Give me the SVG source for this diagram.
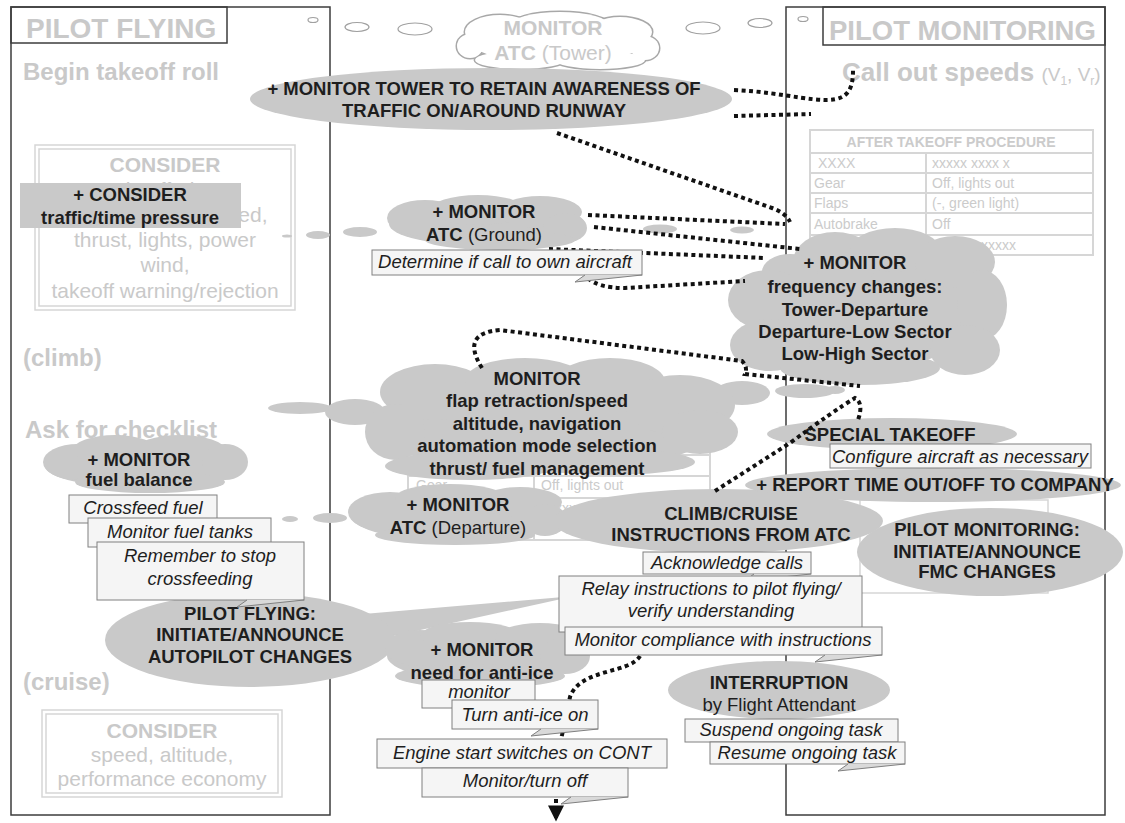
<svg xmlns="http://www.w3.org/2000/svg" width="1125" height="823" viewBox="0 0 1125 823">
<defs>
<style>
text{font-family:"Liberation Sans",Arial,Helvetica,sans-serif}
.frame{fill:none;stroke:#3c3c3c;stroke-width:1.5}
.fade{fill:#c9c9c9;font-weight:bold}
.fadeN{fill:#c9c9c9}
.dbl{fill:none;stroke:#d6d6d6;stroke-width:1.5}
.tbl{fill:none;stroke:#d6d6d6;stroke-width:2}
.tt{fill:#cbcbcb;font-size:14px}
.cl{fill:#c9c9c9}
.lbl{fill:#1e1e1e;font-size:18.5px;font-weight:bold;text-anchor:middle}
.reg{font-weight:normal}
.note{fill:#1e1e1e;font-size:18.5px;font-style:italic;text-anchor:middle}
.box{fill:#f5f5f5;stroke:#808080;stroke-width:1}
.tail{fill:#d9d9d9;stroke:#808080;stroke-width:1}
.dots{fill:none;stroke:#111;stroke-width:4;stroke-dasharray:4 3.5}
.bub{fill:#fff;stroke:#a0a0a0;stroke-width:1.2}
.ghostline{fill:none;stroke:#a8a8a8;stroke-width:3}
.ghostfill{fill:#fff}
</style>
<marker id="arrowhead" viewBox="0 0 10 10" refX="9" refY="5" markerWidth="4.2" markerHeight="4" orient="auto" markerUnits="strokeWidth">
<path d="M0,0 L10,5 L0,10 Z" fill="#111"/>
</marker>
</defs>
<rect width="1125" height="823" fill="#fff"/>

<!-- Pilot Flying column -->
<g id="pilot-flying-panel">
<rect class="frame" x="11" y="7" width="319" height="808"/>
<rect class="frame" x="11" y="7" width="216" height="36"/>
<text class="fade" x="26" y="38" font-size="28">PILOT FLYING</text>
<text class="fade" x="23" y="80" font-size="24">Begin takeoff roll</text>
<rect class="dbl" x="35" y="145" width="260" height="165"/>
<rect class="dbl" x="39" y="149" width="252" height="157"/>
<g class="fadeN" font-size="21" text-anchor="middle">
<text x="165" y="172" font-weight="bold">CONSIDER</text>
<text x="163" y="197">takeoff trim,</text>
<text x="170" y="222">configuration, speed,</text>
<text x="165" y="247">thrust, lights, power</text>
<text x="165" y="272">wind,</text>
<text x="165" y="298">takeoff warning/rejection</text>
</g>
<text class="fade" x="23" y="366" font-size="24">(climb)</text>
<text class="fade" x="25" y="438" font-size="24">Ask for checklist</text>
<text class="fade" x="23" y="690" font-size="24">(cruise)</text>
<rect class="dbl" x="42" y="710" width="240" height="87"/>
<rect class="dbl" x="46" y="714" width="232" height="79"/>
<g class="fadeN" font-size="21" text-anchor="middle">
<text x="162" y="738" font-weight="bold">CONSIDER</text>
<text x="162" y="762">speed, altitude,</text>
<text x="162" y="786">performance economy</text>
</g>
</g>

<!-- Pilot Monitoring column -->
<g id="pilot-monitoring-panel">
<rect class="frame" x="786" y="7" width="319" height="808"/>
<rect class="frame" x="823" y="7" width="282" height="38"/>
<text class="fade" x="829" y="40" font-size="27.5">PILOT MONITORING</text>
<text class="fade" x="842" y="81" font-size="26">Call out speeds <tspan class="fadeN" font-weight="normal" font-size="19">(V<tspan font-size="12" dy="4">1</tspan><tspan dy="-4">, V</tspan><tspan font-size="12" dy="4">r</tspan><tspan dy="-4">)</tspan></tspan></text>
<g id="after-takeoff-table">
<rect class="tbl" x="810" y="130" width="283" height="125"/>
<path class="tbl" d="M810,153 H1093 M810,173 H1093 M810,193 H1093 M810,213 H1093 M810,235 H1093 M926,153 V255"/>
<text class="tt" x="951" y="147" text-anchor="middle" font-weight="bold">AFTER TAKEOFF PROCEDURE</text>
<text class="tt" x="818" y="168" font-size="12">XXXX</text>
<text class="tt" x="932" y="168" font-size="13">xxxxx xxxx x</text>
<text class="tt" x="814" y="188">Gear</text>
<text class="tt" x="932" y="188">Off, lights out</text>
<text class="tt" x="814" y="208">Flaps</text>
<text class="tt" x="932" y="208">(-, green light)</text>
<text class="tt" x="814" y="229">Autobrake</text>
<text class="tt" x="932" y="229">Off</text>
<text class="tt" x="932" y="250">xxxxxxxxxxxx</text>
</g>
<rect class="dbl" x="860" y="500" width="188" height="93"/>
</g>

<!-- faded table in the centre lane -->
<g id="centre-table">
<rect class="tbl" x="408" y="392" width="302" height="148"/>
<path class="tbl" d="M408,413 H710 M408,434 H710 M408,455 H710 M408,476 H710 M408,498 H710 M408,519 H710 M534,413 V540"/>
<text class="tt" x="416" y="490" font-size="15">Gear</text>
<text class="tt" x="541" y="490" font-size="15">Off, lights out</text>
<text class="tt" x="541" y="513" font-size="15">xxxxxxxxxx</text>
</g>

<!-- faded tower monitoring cloud with its thought bubbles -->
<g id="monitor-atc-tower">
<ellipse class="bub" cx="313" cy="20" rx="5" ry="2.5"/>
<ellipse class="bub" cx="357" cy="27" rx="12" ry="4.5"/>
<ellipse class="bub" cx="415" cy="29" rx="17" ry="6"/>
<ellipse class="bub" cx="703" cy="28" rx="17" ry="6"/>
<ellipse class="bub" cx="760" cy="23" rx="12" ry="4.5"/>
<ellipse class="bub" cx="803" cy="19" rx="5" ry="2.5"/>
<g class="ghostline">
<ellipse cx="558" cy="42" rx="88" ry="20"/><ellipse cx="500" cy="32" rx="35" ry="17"/><ellipse cx="560" cy="26" rx="50" ry="14"/><ellipse cx="620" cy="32" rx="32" ry="15"/><ellipse cx="645" cy="48" rx="14" ry="12"/><ellipse cx="470" cy="46" rx="13" ry="12"/><ellipse cx="520" cy="60" rx="45" ry="9"/><ellipse cx="600" cy="60" rx="45" ry="9"/>
</g>
<g class="ghostfill">
<ellipse cx="558" cy="42" rx="88" ry="20"/><ellipse cx="500" cy="32" rx="35" ry="17"/><ellipse cx="560" cy="26" rx="50" ry="14"/><ellipse cx="620" cy="32" rx="32" ry="15"/><ellipse cx="645" cy="48" rx="14" ry="12"/><ellipse cx="470" cy="46" rx="13" ry="12"/><ellipse cx="520" cy="60" rx="45" ry="9"/><ellipse cx="600" cy="60" rx="45" ry="9"/>
</g>
<text class="fade" x="553" y="35" font-size="21" text-anchor="middle">MONITOR</text>
<text class="fade" x="553" y="60" font-size="21" text-anchor="middle">ATC <tspan font-weight="normal">(Tower)</tspan></text>
</g>

<g id="consider-traffic">
<rect class="cl" x="20" y="183" width="221" height="45"/>
<text class="lbl" x="130" y="201">+ CONSIDER</text>
<text class="lbl" x="130" y="224">traffic/time pressure</text>
</g>

<g id="monitor-tower-awareness">
<ellipse class="cl" cx="491" cy="99" rx="241" ry="31"/>
<text class="lbl" x="484" y="95">+ MONITOR TOWER TO RETAIN AWARENESS OF</text>
<text class="lbl" x="484" y="117">TRAFFIC ON/AROUND RUNWAY</text>
</g>

<g id="monitor-atc-ground">
<g class="cl">
<ellipse cx="360" cy="232" rx="17" ry="5"/><ellipse cx="318" cy="235" rx="12" ry="4"/><ellipse cx="287" cy="236" rx="5" ry="1.5"/>
<ellipse cx="660" cy="229" rx="17" ry="4.5"/><ellipse cx="742" cy="230" rx="12" ry="3.5"/>
<ellipse cx="487" cy="224" rx="98" ry="22"/><ellipse cx="425" cy="218" rx="38" ry="18"/><ellipse cx="478" cy="210" rx="48" ry="15"/><ellipse cx="540" cy="212" rx="42" ry="16"/><ellipse cx="565" cy="228" rx="22" ry="15"/><ellipse cx="500" cy="240" rx="75" ry="10"/>
</g>
<text class="lbl" x="484" y="218">+ MONITOR</text>
<text class="lbl" x="484" y="241">ATC <tspan class="reg">(Ground)</tspan></text>
</g>

<g id="monitor-frequency-changes">
<g class="cl">
<ellipse cx="866" cy="310" rx="118" ry="58"/><ellipse cx="835" cy="262" rx="42" ry="30"/><ellipse cx="895" cy="250" rx="45" ry="22"/><ellipse cx="955" cy="262" rx="40" ry="26"/><ellipse cx="790" cy="272" rx="28" ry="18"/><ellipse cx="768" cy="300" rx="40" ry="30"/><ellipse cx="770" cy="345" rx="40" ry="26"/><ellipse cx="982" cy="305" rx="25" ry="35"/><ellipse cx="965" cy="350" rx="35" ry="25"/><ellipse cx="860" cy="368" rx="80" ry="17"/>
</g>
<text class="lbl" x="855" y="269">+ MONITOR</text>
<text class="lbl" x="855" y="293">frequency changes:</text>
<text class="lbl" x="855" y="316">Tower-Departure</text>
<text class="lbl" x="855" y="338">Departure-Low Sector</text>
<text class="lbl" x="855" y="360">Low-High Sector</text>
</g>

<g id="monitor-flaps-altitude">
<g class="cl">
<ellipse cx="300" cy="408" rx="32" ry="6"/><ellipse cx="355" cy="412" rx="30" ry="13"/>
<ellipse cx="742" cy="393" rx="28" ry="12"/><ellipse cx="805" cy="391" rx="30" ry="7"/><ellipse cx="835" cy="390" rx="10" ry="4"/>
<ellipse cx="545" cy="425" rx="172" ry="48"/><ellipse cx="435" cy="392" rx="55" ry="28"/><ellipse cx="525" cy="380" rx="60" ry="22"/><ellipse cx="610" cy="382" rx="55" ry="24"/><ellipse cx="680" cy="405" rx="55" ry="30"/><ellipse cx="395" cy="432" rx="30" ry="28"/><ellipse cx="700" cy="432" rx="38" ry="22"/><ellipse cx="470" cy="466" rx="85" ry="14"/><ellipse cx="610" cy="462" rx="85" ry="13"/>
</g>
<text class="lbl" x="537" y="385">MONITOR</text>
<text class="lbl" x="537" y="407">flap retraction/speed</text>
<text class="lbl" x="537" y="430">altitude, navigation</text>
<text class="lbl" x="537" y="452">automation mode selection</text>
<text class="lbl" x="537" y="475">thrust/ fuel management</text>
</g>

<g id="monitor-fuel-balance">
<g class="cl">
<ellipse cx="145" cy="466" rx="100" ry="22"/><ellipse cx="78" cy="462" rx="35" ry="18"/><ellipse cx="115" cy="450" rx="42" ry="15"/><ellipse cx="180" cy="450" rx="45" ry="15"/><ellipse cx="225" cy="462" rx="23" ry="18"/><ellipse cx="150" cy="482" rx="75" ry="11"/>
</g>
<text class="lbl" x="139" y="466">+ MONITOR</text>
<text class="lbl" x="139" y="486">fuel balance</text>
</g>

<g id="monitor-atc-departure">
<g class="cl">
<ellipse cx="290" cy="519" rx="8" ry="3"/><ellipse cx="330" cy="518" rx="17" ry="5"/>
<ellipse cx="456" cy="516" rx="105" ry="25"/><ellipse cx="390" cy="512" rx="42" ry="20"/><ellipse cx="450" cy="498" rx="55" ry="14"/><ellipse cx="520" cy="502" rx="42" ry="15"/><ellipse cx="545" cy="520" rx="22" ry="16"/><ellipse cx="455" cy="535" rx="80" ry="10"/>
</g>
<text class="lbl" x="458" y="511">+ MONITOR</text>
<text class="lbl" x="458" y="534">ATC <tspan class="reg">(Departure)</tspan></text>
</g>

<g id="pf-autopilot-changes">
<polygon class="cl" points="340,616 575,596 375,640"/>
<ellipse class="cl" cx="250" cy="640" rx="145" ry="47"/>
<text class="lbl" x="250" y="620">PILOT FLYING:</text>
<text class="lbl" x="250" y="641">INITIATE/ANNOUNCE</text>
<text class="lbl" x="250" y="663">AUTOPILOT CHANGES</text>
</g>

<g id="monitor-anti-ice">
<g class="cl">
<ellipse cx="487" cy="656" rx="100" ry="26"/><ellipse cx="420" cy="648" rx="35" ry="18"/><ellipse cx="470" cy="636" rx="50" ry="14"/><ellipse cx="540" cy="638" rx="45" ry="15"/><ellipse cx="565" cy="656" rx="25" ry="18"/><ellipse cx="480" cy="676" rx="85" ry="12"/>
</g>
<text class="lbl" x="482" y="656">+ MONITOR</text>
<text class="lbl" x="482" y="679">need for anti-ice</text>
</g>

<g id="climb-cruise-instructions">
<ellipse class="cl" cx="718" cy="521" rx="165" ry="32"/>
<text class="lbl" x="731" y="520">CLIMB/CRUISE</text>
<text class="lbl" x="731" y="541">INSTRUCTIONS FROM ATC</text>
</g>

<g id="special-takeoff">
<ellipse class="cl" cx="892" cy="434" rx="125" ry="16"/>
<text class="lbl" x="890" y="441">SPECIAL TAKEOFF</text>
</g>

<g id="report-time-out">
<ellipse class="cl" cx="933" cy="485" rx="188" ry="17"/>
<text class="lbl" x="935" y="491">+ REPORT TIME OUT/OFF TO COMPANY</text>
</g>

<g id="pm-fmc-changes">
<ellipse class="cl" cx="990" cy="552" rx="133" ry="44"/>
<text class="lbl" x="987" y="536">PILOT MONITORING:</text>
<text class="lbl" x="987" y="558">INITIATE/ANNOUNCE</text>
<text class="lbl" x="987" y="578">FMC CHANGES</text>
</g>

<g id="interruption">
<ellipse class="cl" cx="779" cy="690" rx="111" ry="29"/>
<text class="lbl" x="779" y="689">INTERRUPTION</text>
<text class="lbl reg" x="779" y="711">by Flight Attendant</text>
</g>

<!-- dotted links -->
<g id="connectors">
<path class="dots" d="M734,90 C785,92 825,106 842,97 C852,92 853,80 853,70"/>
<path class="dots" d="M734,116 L811,114"/>
<path class="dots" d="M557,133 L772,208 Q786,213 790,222"/>
<path class="dots" d="M588,215 L785,224"/>
<path class="dots" d="M594,227 L800,249"/>
<path class="dots" d="M549,249 L765,258"/>
<path class="dots" d="M588,278 Q598,288 625,288 L745,281"/>
<path class="dots" d="M482,368 Q460,333 500,330 L742,361 Q748,367 745,374 L860,386"/>
<path class="dots" d="M715,491 L790,443 Q835,410 855,398 Q864,403 858,420"/>
<path class="dots" d="M640,656 C630,674 580,668 570,697 L562,735 L556,760 L556,820" marker-end="url(#arrowhead)"/>
</g>

<!-- callout notes -->
<g id="note-determine-call">
<rect class="box" x="372" y="250" width="270" height="25"/>
<path class="tail" d="M585,275 L575,282 L642,275"/>
<text class="note" x="505" y="268">Determine if call to own aircraft</text>
</g>
<g id="note-crossfeed-fuel">
<rect class="box" x="69" y="495" width="148" height="28"/>
<path class="tail" d="M160,523 L150,530 L217,523"/>
<text class="note" x="143" y="514">Crossfeed fuel</text>
</g>
<g id="note-monitor-fuel-tanks">
<rect class="box" x="88" y="518" width="183" height="29"/>
<path class="tail" d="M214,547 L204,554 L271,547"/>
<text class="note" x="180" y="538">Monitor fuel tanks</text>
</g>
<g id="note-stop-crossfeeding">
<rect class="box" x="97" y="542" width="207" height="58"/>
<path class="tail" d="M247,600 L237,607 L304,600"/>
<text class="note" x="200" y="562">Remember to stop</text>
<text class="note" x="200" y="585">crossfeeding</text>
</g>
<g id="note-configure-aircraft">
<rect class="box" x="830" y="444" width="261" height="24"/>
<text class="note" x="960" y="463">Configure aircraft as necessary</text>
</g>
<g id="note-acknowledge-calls">
<rect class="box" x="643" y="552" width="168" height="22"/>
<path class="tail" d="M754,574 L744,581 L811,574"/>
<text class="note" x="727" y="569">Acknowledge calls</text>
</g>
<g id="note-relay-instructions">
<rect class="box" x="559" y="576" width="303" height="56"/>
<path class="tail" d="M805,632 L795,639 L862,632"/>
<text class="note" x="711" y="595">Relay instructions to pilot flying/</text>
<text class="note" x="711" y="617">verify understanding</text>
</g>
<g id="note-monitor-compliance">
<rect class="box" x="565" y="627" width="317" height="28"/>
<path class="tail" d="M825,655 L815,662 L882,655"/>
<text class="note" x="723" y="646">Monitor compliance with instructions</text>
</g>
<g id="note-suspend-task">
<rect class="box" x="685" y="719" width="213" height="23"/>
<text class="note" x="791" y="736">Suspend ongoing task</text>
</g>
<g id="note-resume-task">
<rect class="box" x="710" y="742" width="195" height="22"/>
<path class="tail" d="M848,764 L838,771 L905,764"/>
<text class="note" x="807" y="759">Resume ongoing task</text>
</g>
<g id="note-monitor-ice">
<rect class="box" x="422" y="680" width="113" height="28"/>
<text class="note" x="479" y="698">monitor</text>
</g>
<g id="note-anti-ice-on">
<rect class="box" x="452" y="700" width="146" height="29"/>
<path class="tail" d="M541,729 L531,736 L598,729"/>
<text class="note" x="525" y="721">Turn anti-ice on</text>
</g>
<g id="note-engine-start">
<rect class="box" x="377" y="739" width="290" height="29"/>
<text class="note" x="522" y="759">Engine start switches on CONT</text>
</g>
<g id="note-monitor-turn-off">
<rect class="box" x="422" y="768" width="206" height="29"/>
<path class="tail" d="M571,797 L561,804 L628,797"/>
<text class="note" x="525" y="787">Monitor/turn off</text>
</g>
</svg>
